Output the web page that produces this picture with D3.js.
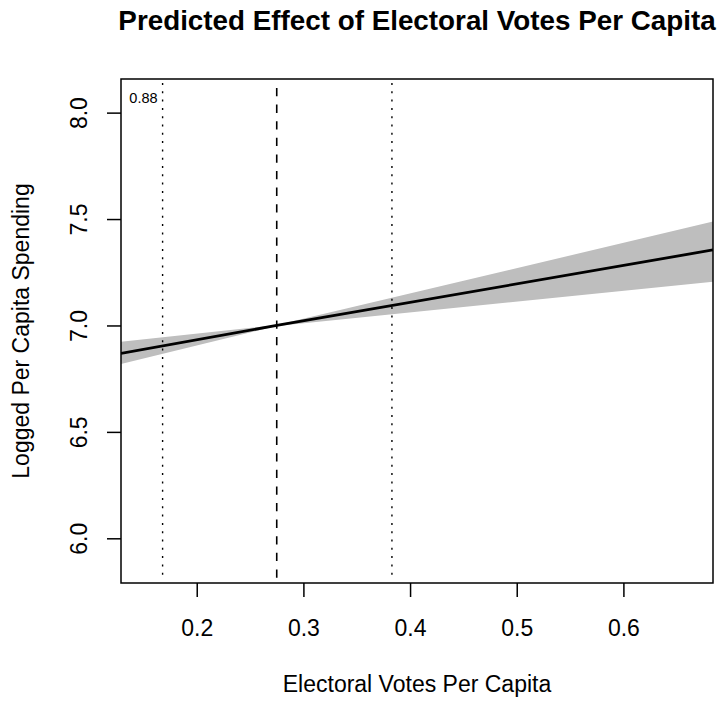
<!DOCTYPE html>
<html>
<head>
<meta charset="utf-8">
<script src="https://cdn.jsdelivr.net/npm/d3@7"></script>
<style>
  body { margin: 0; background: #fff; }
  svg { display: block; font-family: 'Liberation Sans', Arial, sans-serif; }
</style>
</head>
<body>
<div id="chart"></div>
<script>
// axis ranges and ticks
const xDomain = [0.129, 0.684];
const yDomain = [5.79, 8.158];
const xTicks = [0.2, 0.3, 0.4, 0.5, 0.6];
const yTicks = [6.0, 6.5, 7.0, 7.5, 8.0];

// prediction line and confidence band
const xPts = [0.129, 0.275, 0.684];
const fit = [6.869, 7.0, 7.355];
const lower = [6.819, 6.998, 7.205];
const upper = [6.924, 7.002, 7.488];

// reference lines
const meanX = 0.275;
const sdLines = [0.168, 0.383];
const cornerLabel = '0.88';

const W = 725, H = 701;
const margin = { top: 79, right: 12, bottom: 118, left: 121 };
const width = W - margin.left - margin.right;
const height = H - margin.top - margin.bottom;

const svg = d3.select('#chart').append('svg')
  .attr('width', W)
  .attr('height', H);

const g = svg.append('g')
  .attr('transform', `translate(${margin.left},${margin.top})`);

const x = d3.scaleLinear().domain(xDomain).range([0, width]);
const y = d3.scaleLinear().domain(yDomain).range([height, 0]);

g.append('clipPath').attr('id', 'clip')
  .append('rect').attr('width', width).attr('height', height);

const plot = g.append('g').attr('clip-path', 'url(#clip)');

const bandData = xPts.map((v, i) => ({ x: v, lo: lower[i], hi: upper[i], fit: fit[i] }));

plot.append('path')
  .datum(bandData)
  .attr('fill', '#bebebe')
  .attr('d', d3.area().x(d => x(d.x)).y0(d => y(d.lo)).y1(d => y(d.hi)));

plot.append('path')
  .datum(bandData)
  .attr('fill', 'none')
  .attr('stroke', '#000')
  .attr('stroke-width', 2.8)
  .attr('d', d3.line().x(d => x(d.x)).y(d => y(d.fit)));

plot.selectAll('line.sd')
  .data(sdLines)
  .enter().append('line')
  .attr('class', 'sd')
  .attr('x1', d => x(d)).attr('x2', d => x(d))
  .attr('y1', 4).attr('y2', height - 4)
  .attr('stroke', '#000')
  .attr('stroke-width', 1.4)
  .attr('stroke-dasharray', '2,6.3');

plot.append('line')
  .attr('x1', x(meanX)).attr('x2', x(meanX))
  .attr('y1', 9).attr('y2', height - 4)
  .attr('stroke', '#000')
  .attr('stroke-width', 1.6)
  .attr('stroke-dasharray', '8.3,8.3');

g.append('text')
  .attr('x', x(sdLines[0]) - 5)
  .attr('y', 24)
  .attr('text-anchor', 'end')
  .attr('font-size', 14.5)
  .text(cornerLabel);

// frame
g.append('rect')
  .attr('width', width).attr('height', height)
  .attr('fill', 'none')
  .attr('stroke', '#000')
  .attr('stroke-width', 1.5);

// axes (R style: ticks outside, no domain line)
const xAxis = g.append('g')
  .attr('transform', `translate(0,${height})`)
  .call(d3.axisBottom(x).tickValues(xTicks).tickSize(14).tickPadding(22).tickFormat(d3.format('.1f')));
xAxis.select('.domain').remove();
xAxis.selectAll('line').attr('stroke-width', 1.5);
xAxis.selectAll('text')
  .attr('font-size', 23).attr('font-family', null).attr('dy', null)
  .attr('y', 53);

const yAxis = g.append('g')
  .call(d3.axisLeft(y).tickValues(yTicks).tickSize(14).tickFormat(d3.format('.1f')));
yAxis.select('.domain').remove();
yAxis.selectAll('line').attr('stroke-width', 1.5);
yAxis.selectAll('text')
  .attr('font-size', 23).attr('font-family', null)
  .attr('x', null).attr('dy', null)
  .attr('text-anchor', 'middle')
  .attr('transform', 'translate(-34,0) rotate(-90)');

svg.selectAll('.tick text').attr('fill', '#000');
svg.selectAll('.tick line').attr('stroke', '#000');

// title and axis labels
svg.append('text')
  .attr('x', margin.left + width / 2)
  .attr('y', 30)
  .attr('text-anchor', 'middle')
  .attr('font-size', 27.8)
  .attr('font-weight', 'bold')
  .text('Predicted Effect of Electoral Votes Per Capita');

svg.append('text')
  .attr('x', margin.left + width / 2)
  .attr('y', 692)
  .attr('text-anchor', 'middle')
  .attr('font-size', 23)
  .text('Electoral Votes Per Capita');

svg.append('text')
  .attr('transform', `translate(29,${margin.top + height / 2}) rotate(-90)`)
  .attr('text-anchor', 'middle')
  .attr('font-size', 23)
  .text('Logged Per Capita Spending');
</script>
</body>
</html>
